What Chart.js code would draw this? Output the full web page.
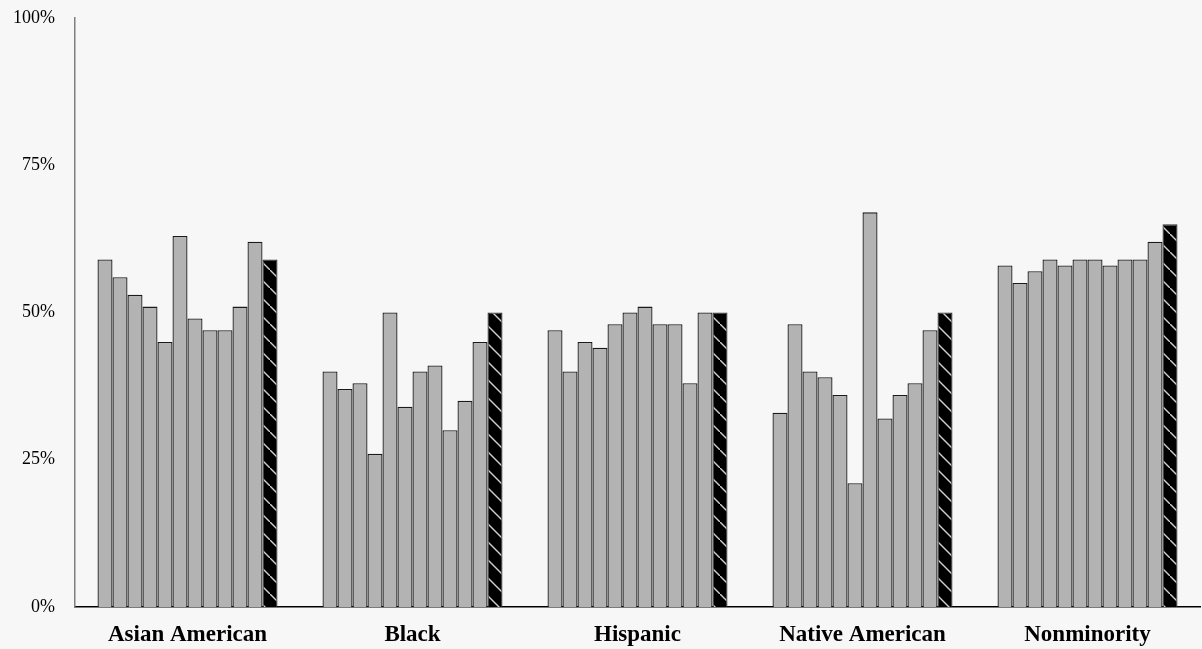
<!DOCTYPE html>
<html>
<head>
<meta charset="utf-8">
<script src="https://cdn.jsdelivr.net/npm/chart.js@4.4.0/dist/chart.umd.min.js"></script>
<style>
  html, body { margin: 0; padding: 0; background: #f7f7f7; }
  #wrap { width: 1202px; height: 649px; }
</style>
</head>
<body>
<div id="wrap"><canvas id="graph" width="1202" height="649"></canvas></div>
<script>
// categories on the x axis
var categories = ["Asian American", "Black", "Hispanic", "Native American", "Nonminority"];

// 11 grey bars + last (hatched) bar per group, in percent
var asianAmerican   = [59, 56, 53, 51, 45, 63, 49, 47, 47, 51, 62, 59];
var black           = [40, 37, 38, 26, 50, 34, 40, 41, 30, 35, 45, 50];
var hispanic        = [47, 40, 45, 44, 48, 50, 51, 48, 48, 38, 50, 50];
var nativeAmerican  = [33, 48, 40, 39, 36, 21, 67, 32, 36, 38, 47, 50];
var nonminority     = [58, 55, 57, 59, 58, 59, 59, 58, 59, 59, 62, 65];

var seriesNames = ["Series 1", "Series 2", "Series 3", "Series 4", "Series 5", "Series 6",
                   "Series 7", "Series 8", "Series 9", "Series 10", "Series 11", "Total"];
var yTicks = [0, 25, 50, 75, 100];

function hatch() {
    var c = document.createElement("canvas");
    c.width = 18;
    c.height = 18;
    var g = c.getContext("2d");
    g.fillStyle = "#000000";
    g.fillRect(0, 0, 18, 18);
    g.strokeStyle = "#d0d0d0";
    g.lineWidth = 1.4;
    g.beginPath();
    g.moveTo(-2, -2);
    g.lineTo(20, 20);
    g.stroke();
    return g.createPattern(c, "repeat");
}

var groups = [asianAmerican, black, hispanic, nativeAmerican, nonminority];
var datasets = [];
for (var i = 0; i < seriesNames.length; i++) {
    var vals = [];
    for (var j = 0; j < groups.length; j++) {
        vals.push(groups[j][i]);
    }
    var last = i == seriesNames.length - 1;
    datasets.push({
        label: seriesNames[i],
        data: vals,
        backgroundColor: last ? hatch() : "#b3b3b3",
        borderColor: last ? "#333333" : "#1a1a1a",
        borderWidth: 1.3,
        barPercentage: 1,
        categoryPercentage: 0.8
    });
}

var gTarget = document.getElementById("graph");
var barGraph = new Chart(gTarget, {
    type: "bar",
    data: { labels: categories, datasets: datasets },
    options: {
        responsive: false,
        animation: false,
        layout: { padding: { left: 0, right: 2, top: 18, bottom: 0 } },
        plugins: { legend: { display: false }, tooltip: { enabled: false } },
        scales: {
            x: {
                grid: { display: false, drawTicks: false },
                border: { display: true, color: "#000000", width: 1.5 },
                ticks: {
                    color: "#000000",
                    padding: 14,
                    font: { family: "'Liberation Serif', 'Times New Roman', serif", size: 23, weight: "bold" }
                },
                afterFit: function (scale) { scale.height = 42; }
            },
            y: {
                min: 0,
                max: 100,
                afterBuildTicks: function (scale) {
                    scale.ticks = yTicks.map(function (v) { return { value: v }; });
                },
                grid: { display: false, drawTicks: false },
                border: { display: true, color: "#7f7f7f", width: 1.5 },
                ticks: {
                    color: "#000000",
                    padding: 20,
                    font: { family: "'Liberation Serif', 'Times New Roman', serif", size: 18 },
                    callback: function (v) { return v + "%"; }
                },
                afterFit: function (scale) {
                    scale.width = 75;
                    scale.paddingTop = 0;
                    scale.paddingBottom = 0;
                }
            }
        }
    }
});
</script>
</body>
</html>
